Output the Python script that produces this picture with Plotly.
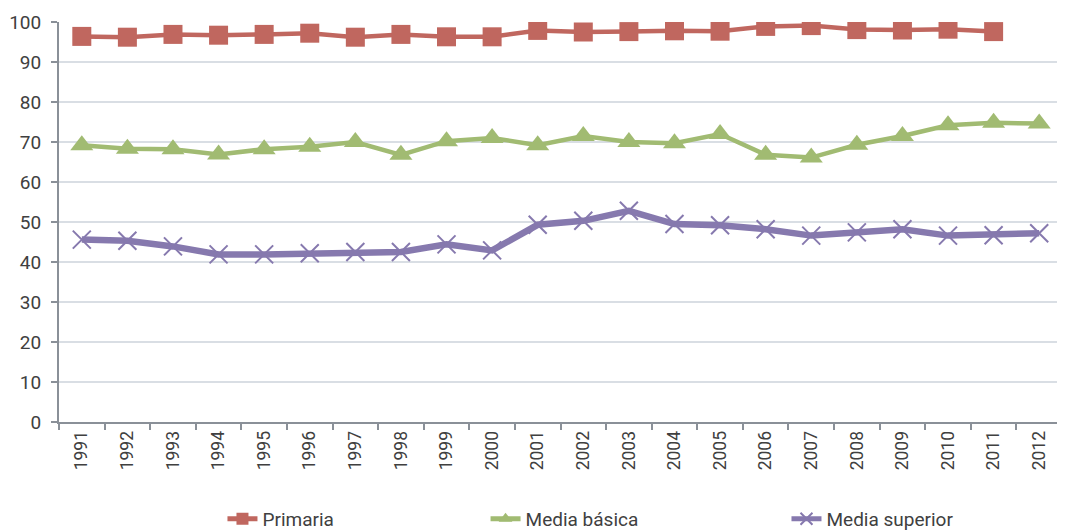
import plotly.graph_objects as go

years = [str(y) for y in range(1991, 2013)]
primaria = [96.4, 96.2, 96.9, 96.7, 96.9, 97.2, 96.2, 96.9, 96.3, 96.3,
            97.9, 97.5, 97.6, 97.8, 97.7, 98.9, 99.1, 98.1, 98.0, 98.2, 97.6, None]
media_basica = [69.2, 68.3, 68.2, 66.9, 68.2, 68.8, 70.0, 66.8, 70.2, 71.0,
                69.2, 71.5, 70.0, 69.7, 72.0, 66.8, 66.1, 69.3, 71.5, 74.2, 74.8, 74.6]
media_superior = [45.6, 45.3, 43.9, 41.9, 41.9, 42.2, 42.5, 42.5, 44.4, 42.9,
                  49.3, 50.3, 52.8, 49.5, 49.2, 48.2, 46.6, 47.4, 48.2, 46.6, 46.7, 47.2]

names = ["Primaria", "Media básica", "Media superior"]
colors = ["#C0675F", "#A1BB72", "#8679AE"]

fig = go.Figure()
fig.add_trace(go.Scatter(x=years, y=primaria, name=names[0], mode="lines+markers",
                         line=dict(color=colors[0], width=4.5),
                         marker=dict(symbol="square", size=19, color=colors[0]),
                         legend="legend"))
fig.add_trace(go.Scatter(x=years, y=media_basica, name=names[1], mode="lines+markers",
                         line=dict(color=colors[1], width=4.5),
                         marker=dict(symbol="triangle-up", size=20, color=colors[1]),
                         legend="legend2"))
fig.add_trace(go.Scatter(x=years, y=media_superior, name=names[2], mode="lines+markers",
                         line=dict(color=colors[2], width=6.5),
                         marker=dict(symbol="x-thin-open", size=18,
                                     line=dict(color=colors[2], width=2)),
                         legend="legend3"))

font = dict(family="Roboto, Noto Sans, sans-serif", size=19, color="#404040")
leg_common = dict(orientation="h", yref="container", xref="container",
                  yanchor="middle", y=0.023, xanchor="left",
                  font=font, bgcolor="rgba(0,0,0,0)", itemsizing="constant")

# page has an 8px body margin; plot area target: x 59..1062, y 22..422
fig.update_layout(
    width=1057, height=523,
    margin=dict(l=51, r=3, t=14, b=109, autoexpand=False),
    paper_bgcolor="white", plot_bgcolor="white",
    font=font,
    showlegend=True,
    legend=dict(x=0.2029, **leg_common),
    legend2=dict(x=0.4518, **leg_common),
    legend3=dict(x=0.7365, **leg_common),
    xaxis=dict(type="category", range=[-0.5, 21.5], tickangle=-90,
               showline=True, linecolor="#8A9098", linewidth=2,
               ticks="outside", tickson="boundaries", ticklen=6,
               tickcolor="#8A9098", tickwidth=2, automargin=False,
               showgrid=False, tickfont=dict(size=17.5, color="#404040")),
    yaxis=dict(range=[0, 100], dtick=10, showline=True, linecolor="#8A9098",
               linewidth=2, ticks="outside", ticklen=6, tickcolor="#8A9098",
               tickwidth=2, showgrid=True, gridcolor="#D9DEE4", gridwidth=2,
               zeroline=False, ticklabelstandoff=6, automargin=False,
               tickfont=dict(size=19, color="#404040")),
)

fig.write_html("out.html")
